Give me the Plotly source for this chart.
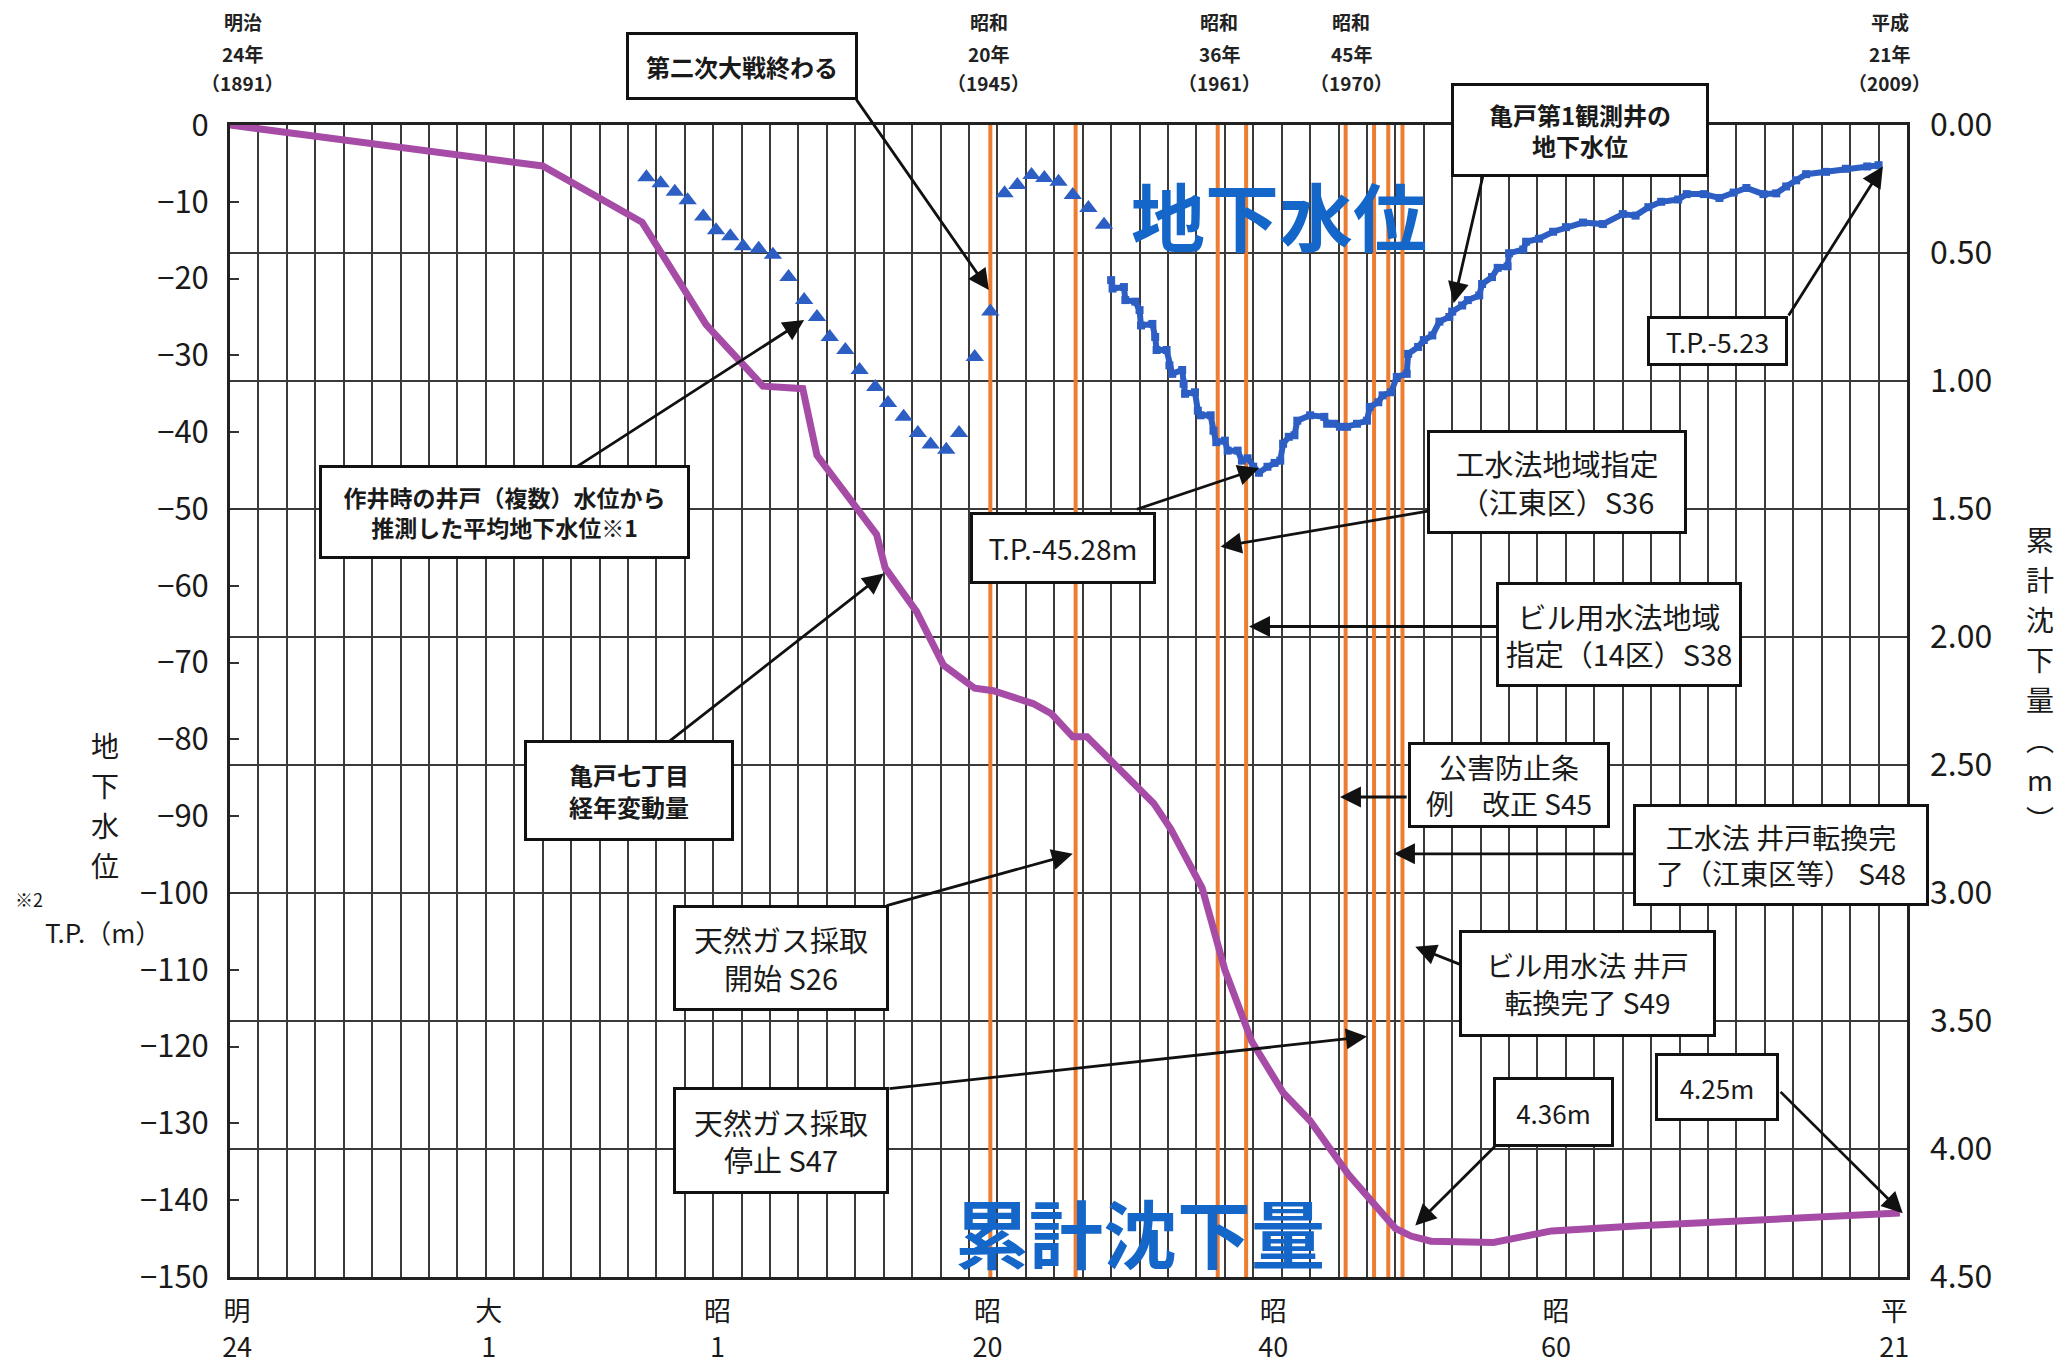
import plotly.graph_objects as go

JP = "Noto Sans CJK JP"
NUM = "Liberation Sans Narrow, Noto Sans CJK JP"
BLUE = "#2c5ec4"
PURPLE = "#a64ca6"
ORANGE = "#ed7d31"
GRID = "#3a3a3a"

# estimated average groundwater level from well records (T.P. m)
est_years = [1920.8, 1921.8, 1922.8, 1923.7, 1924.8, 1925.7, 1926.7, 1927.6, 1928.7, 1929.7,
             1930.8, 1931.9, 1932.8, 1933.7, 1934.8, 1935.8, 1936.9, 1937.8, 1938.9, 1939.9,
             1940.8, 1941.9, 1942.8, 1943.9, 1945.0, 1946.0, 1946.9, 1947.9, 1948.8, 1949.8,
             1950.8, 1951.9, 1953.0]
est_levels = [-6.8, -7.6, -8.7, -9.8, -11.9, -13.7, -14.5, -15.8, -16.1, -16.9,
              -19.8, -22.8, -25.0, -27.6, -29.3, -31.9, -34.1, -36.2, -38.0, -40.1,
              -41.6, -42.3, -40.1, -30.2, -24.3, -8.9, -7.8, -6.5, -6.9, -7.4,
              -9.1, -10.8, -13.0]

# 亀戸第1観測井 groundwater level (T.P. m)
obs_years = [1953.5, 1953.6, 1954.4, 1954.5, 1955.2, 1955.5, 1955.6, 1956.4, 1956.6, 1956.7,
             1957.4, 1957.6, 1957.8, 1958.5, 1958.6, 1958.7, 1959.4, 1959.6, 1959.8, 1960.5,
             1960.7, 1960.9, 1961.5, 1961.7, 1962.4, 1962.7, 1963.1, 1963.5, 1963.9, 1964.5,
             1965.0, 1965.4, 1965.6, 1966.0, 1966.4, 1966.6, 1967.5, 1968.5, 1968.7, 1969.2,
             1969.6, 1970.1, 1970.8, 1971.5, 1971.7, 1972.3, 1972.6, 1973.2, 1973.6, 1974.3,
             1974.4, 1975.1, 1975.5, 1976.1, 1976.6, 1977.3, 1977.5, 1978.2, 1978.6, 1979.4,
             1979.6, 1980.3, 1980.7, 1981.4, 1981.5, 1982.5, 1982.7, 1983.6, 1984.6, 1985.5,
             1986.7, 1988.1, 1989.5, 1990.4, 1991.3, 1992.2, 1993.4, 1994.0, 1995.2, 1996.3,
             1997.3, 1998.2, 1999.4, 2000.3, 2001.0, 2001.7, 2002.4, 2003.8, 2005.2, 2006.7,
             2007.5]
obs_levels = [-20.2, -21.3, -21.1, -22.8, -23.0, -24.1, -26.1, -25.9, -27.6, -29.3,
              -29.3, -31.3, -32.4, -31.9, -33.7, -35.0, -34.8, -37.2, -37.8, -37.8,
              -39.8, -41.3, -41.1, -42.4, -42.4, -43.7, -43.4, -44.5, -45.28, -44.5,
              -44.0, -43.7, -41.5, -40.6, -40.4, -38.5, -37.8, -38.0, -38.9, -38.9,
              -39.3, -39.3, -38.9, -38.5, -36.7, -36.1, -35.2, -34.8, -32.8, -32.4,
              -29.8, -28.9, -28.0, -27.4, -25.6, -25.0, -24.3, -23.5, -22.8, -22.2,
              -20.7, -19.8, -18.6, -18.4, -16.7, -16.2, -15.2, -14.8, -13.9, -13.3,
              -12.7, -12.9, -11.6, -11.8, -10.7, -10.0, -9.7, -9.0, -9.0, -9.5,
              -8.8, -8.2, -9.0, -8.9, -8.0, -7.2, -6.4, -6.1, -5.7, -5.4,
              -5.23]

# 亀戸七丁目 cumulative subsidence (m)
sub_years = [1891.5, 1913.5, 1920.5, 1925.0, 1929.0, 1931.8, 1932.8, 1935.0, 1937.0, 1937.6,
             1939.8, 1941.7, 1943.9, 1945.2, 1948.0, 1949.3, 1950.8, 1951.8, 1954.0, 1956.5,
             1957.7, 1959.9, 1961.5, 1963.4, 1965.6, 1967.5, 1970.2, 1971.9, 1973.5, 1974.6,
             1976.0, 1980.4, 1984.5, 1990.7, 1997.5, 2004.4, 2009.0]
sub_depth = [0.00, 0.16, 0.38, 0.78, 1.02, 1.03, 1.29, 1.45, 1.60, 1.73,
             1.90, 2.11, 2.20, 2.21, 2.26, 2.30, 2.39, 2.39, 2.51, 2.65,
             2.75, 2.98, 3.30, 3.58, 3.78, 3.89, 4.10, 4.21, 4.31, 4.34,
             4.36, 4.365, 4.32, 4.30, 4.28, 4.265, 4.25]

# policy / event years (S20, S26, S36, S38, S45, S47, S48, S49)
event_years = [1945, 1951, 1961, 1963, 1970, 1972, 1973, 1974]

era_tick_pos = [1892, 1909.7, 1925.8, 1944.8, 1964.9, 1984.8, 2008.6]
era_tick_text = ["明<br>24", "大<br>1", "昭<br>1", "昭<br>20", "昭<br>40", "昭<br>60", "平<br>21"]

top_pos = [1892.4, 1944.9, 1961.1, 1970.4, 2008.3]
top_era = ["明治", "昭和", "昭和", "昭和", "平成"]
top_nen = ["24年", "20年", "36年", "45年", "21年"]
top_ad = ["（1891）", "（1945）", "（1961）", "（1970）", "（2009）"]

# plot frame in pixels
L, R, T, B = 230, 1907, 125, 1277


def px(x):
    return (x - L) / (R - L)


def py(y):
    return 1 - (y - T) / (B - T)


fig = go.Figure()

ox, oy = [], []
for e in event_years:
    ox += [e, e, None]
    oy += [-150, 0, None]
fig.add_trace(go.Scatter(x=ox, y=oy, mode="lines", line=dict(color=ORANGE, width=4),
                         hoverinfo="skip"))

fig.add_trace(go.Scatter(x=est_years, y=est_levels, mode="markers",
                         marker=dict(symbol="triangle-up", size=16, color=BLUE)))
fig.add_trace(go.Scatter(x=obs_years, y=obs_levels, mode="lines+markers",
                         line=dict(color=BLUE, width=6),
                         marker=dict(symbol="square", size=8, color=BLUE)))
fig.add_trace(go.Scatter(x=sub_years, y=sub_depth, yaxis="y2", mode="lines",
                         line=dict(color=PURPLE, width=7)))

ann = []

# callout boxes: text, centre (year, T.P.), box w/h px, font size, bold
boxes = [
    ("作井時の井戸（複数）水位から<br>推測した平均地下水位※1", 1910.8, -50.4, 365, 88, 23, True),
    ("亀戸七丁目<br>経年変動量", 1919.6, -86.7, 204, 95, 24, True),
    ("T.P.-45.28m", 1950.1, -55.1, 180, 66, 28, False),
    ("工水法地域指定<br>（江東区）S36", 1984.9, -46.5, 254, 98, 29, False),
    ("ビル用水法地域<br>指定（14区）S38", 1989.2, -66.4, 240, 99, 29, False),
    ("公害防止条<br>例　改正 S45", 1981.5, -85.9, 196, 80, 28, False),
    ("工水法 井戸転換完<br>了（江東区等） S48", 2000.6, -95.0, 290, 96, 28, False),
    ("ビル用水法 井戸<br>転換完了 S49", 1987.0, -111.8, 251, 101, 28, False),
    ("天然ガス採取<br>開始 S26", 1930.3, -108.4, 210, 100, 29, False),
    ("天然ガス採取<br>停止 S47", 1930.3, -132.2, 210, 101, 29, False),
    ("亀戸第1観測井の<br>地下水位", 1986.5, -0.65, 252, 88, 24, True),
    ("T.P.-5.23", 1996.2, -28.1, 135, 44, 27, False),
    ("4.36m", 1984.6, -128.5, 115, 64, 26, False),
    ("4.25m", 1996.1, -125.2, 118, 62, 26, False),
]

# arrows: tail (year, T.P.) -> tip (year, T.P.)
arrows = [
    ((1935.5, 3.5), (1944.9, -21.5)),
    ((1915.8, -44.6), (1931.9, -25.4)),
    ((1922.3, -80.4), (1937.5, -58.4)),
    ((1955.2, -50.1), (1963.9, -44.7)),
    ((1976.0, -50.2), (1961.2, -54.9)),
    ((1980.8, -65.3), (1963.2, -65.3)),
    ((1974.4, -87.5), (1969.6, -87.5)),
    ((1990.4, -94.9), (1973.4, -94.9)),
    ((1978.2, -109.4), (1974.9, -107.0)),
    ((1937.6, -101.7), (1950.8, -94.9)),
    ((1937.8, -125.5), (1971.5, -118.7)),
    ((1979.7, -6.3), (1977.6, -23.2)),
    ((2001.1, -25.0), (2007.8, -5.4)),
    ((1980.6, -132.8), (1974.9, -143.3)),
    ((2000.5, -125.7), (2009.2, -141.7)),
]

for (tx, ty), (hx, hy) in arrows:
    ann.append(dict(x=hx, y=hy, ax=tx, ay=ty, xref="x", yref="y", axref="x", ayref="y",
                    text="", showarrow=True, arrowhead=2, arrowsize=1.5, arrowwidth=2.8,
                    arrowcolor="#111", standoff=0))

box_style = dict(showarrow=False, align="center", valign="middle", xanchor="center",
                 yanchor="middle", bgcolor="white", bordercolor="#111", borderwidth=3,
                 borderpad=0)

for text, cx, cy, w, h, fs, bold in boxes:
    ann.append(dict(x=cx, y=cy, xref="x", yref="y", text=f"<b>{text}</b>" if bold else text,
                    width=w, height=h, font=dict(family=JP, size=fs, color="#1a1a1a"),
                    **box_style))

# box above the plot frame
ann.append(dict(x=1927.5, y=py(66), xref="x", yref="paper", text="<b>第二次大戦終わる</b>",
                width=226, height=62, font=dict(family=JP, size=24, color="#1a1a1a"),
                **box_style))

ann.append(dict(x=1965.3, y=-11.5, xref="x", yref="y", text="<b>地下水位</b>", showarrow=False,
                xanchor="center", yanchor="middle",
                font=dict(family=JP, size=74, color="#1466c8")))
ann.append(dict(x=1955.5, y=-144.0, xref="x", yref="y", text="<b>累計沈下量</b>", showarrow=False,
                xanchor="center", yanchor="middle",
                font=dict(family=JP, size=74, color="#1466c8")))

for x, a, b, c in zip(top_pos, top_era, top_nen, top_ad):
    for t, yy in ((a, 22), (b, 53), (c, 82)):
        ann.append(dict(x=x, y=py(yy), xref="x", yref="paper", text=f"<b>{t}</b>",
                        showarrow=False, xanchor="center", yanchor="middle",
                        font=dict(family=JP, size=19, color="#222")))

label_style = dict(xref="paper", yref="paper", showarrow=False, xanchor="center",
                   yanchor="middle")
for i, ch in enumerate("地下水位"):
    ann.append(dict(x=px(105), y=py(745 + 40 * i), text=ch,
                    font=dict(family=JP, size=28, color="#1a1a1a"), **label_style))
ann.append(dict(x=px(29), y=py(899), text="※2",
                font=dict(family=JP, size=18, color="#1a1a1a"), **label_style))
ann.append(dict(x=px(103), y=py(931), text="T.P.（m）",
                font=dict(family=JP, size=26, color="#1a1a1a"), **label_style))
for i, ch in enumerate(["累", "計", "沈", "下", "量", "︵", "m", "︶"]):
    ann.append(dict(x=px(2040), y=py(539 + 40 * i), text=ch,
                    font=dict(family=JP, size=28, color="#1a1a1a"), **label_style))

fig.update_layout(
    width=2064, height=1365,
    margin=dict(l=L, r=2064 - R, t=T, b=1365 - B),
    paper_bgcolor="white", plot_bgcolor="white",
    showlegend=False,
    font=dict(family=JP, size=20, color="#1a1a1a"),
    annotations=ann,
    xaxis=dict(range=[1891.5, 2009.5], tickvals=era_tick_pos, ticktext=era_tick_text,
               showgrid=False, ticks="", tickfont=dict(family=JP, size=27),
               ticklabelstandoff=9, tickangle=0, automargin=False,
               showline=True, linecolor="#222", linewidth=3, mirror=True, zeroline=False,
               minor=dict(tick0=1891.5, dtick=2, showgrid=True, gridcolor=GRID, gridwidth=1.6,
                          ticks="")),
    yaxis=dict(range=[-150, 0], dtick=10, showgrid=False, ticks="inside", ticklen=9,
               tickwidth=1.6, tickcolor="#333", tickfont=dict(family=NUM, size=31),
               ticklabelstandoff=12, automargin=False,
               showline=True, linecolor="#222", linewidth=3, mirror=True, zeroline=False),
    yaxis2=dict(overlaying="y", side="right", range=[4.5, 0], dtick=0.5, tickformat=".2f",
                showgrid=True, gridcolor=GRID, gridwidth=1.6, ticks="",
                tickfont=dict(family=NUM, size=32), ticklabelstandoff=22, automargin=False,
                showline=False, zeroline=False),
)

# fixed-size figure: drop the page margin and any scroll overflow around it
page_js = ("document.documentElement.style.overflow = 'hidden';"
           "document.body.style.margin = '0';"
           "document.body.style.overflow = 'hidden';")
fig.write_html("out.html", post_script=page_js, config={"displayModeBar": False})
